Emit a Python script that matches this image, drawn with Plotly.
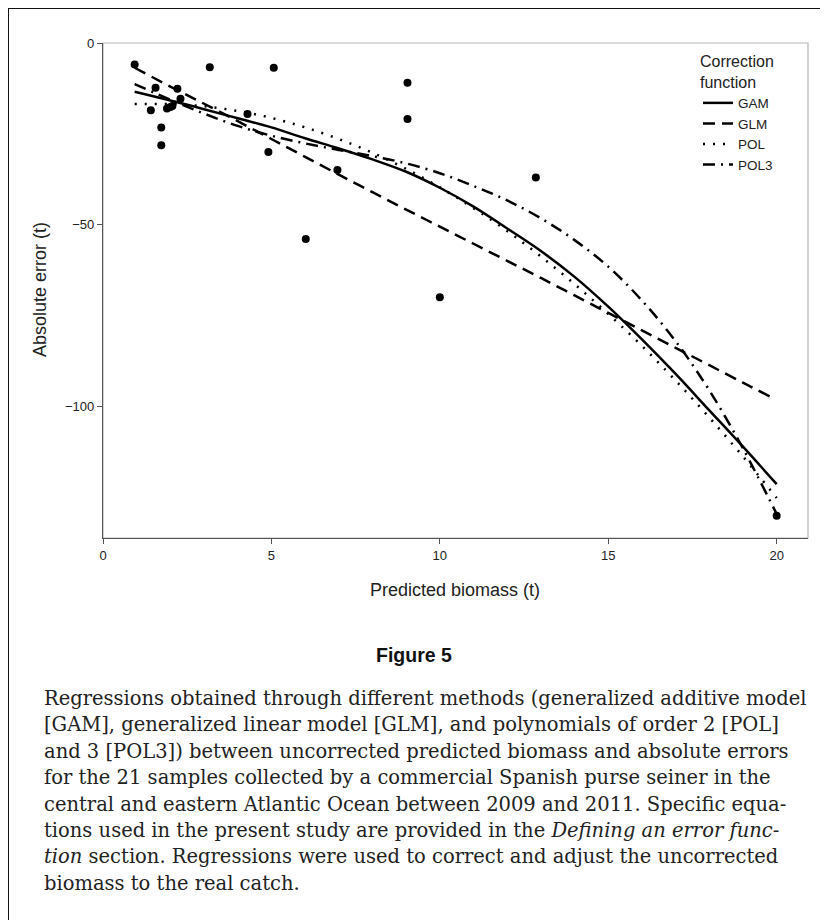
import plotly.graph_objects as go

# ---------------- data ----------------
pts_x = [0.94, 3.17, 5.07, 1.56, 2.21, 2.30, 1.42, 1.90, 2.00, 2.06, 1.73, 1.73,
         4.29, 4.91, 6.96, 9.04, 9.04, 12.85, 6.02, 10.0, 20.0]
pts_y = [-5.9, -6.7, -6.8, -12.3, -12.6, -15.3, -18.5, -18.0, -17.6, -17.3, -23.2, -28.1,
         -19.5, -30.0, -34.9, -10.9, -20.9, -37.0, -53.9, -69.9, -130.0]

curve_x = [0.94, 2, 3, 4, 5, 6, 7, 8, 9, 10, 11, 12, 13, 14, 15, 16, 17, 18, 19, 20]
gam_y = [-13.4, -15.8, -18.2, -20.7, -23.2, -26.2, -29.0, -32.0, -35.4, -39.8,
         -45.0, -51.0, -57.2, -64.3, -72.5, -81.5, -91.0, -101.0, -111.0, -121.3]
glm_x = [0.94, 2, 3, 4, 5, 6, 7, 8, 9, 10, 11, 12, 13, 14, 15, 16, 17, 18, 19, 19.8]
glm_y = [-6.8, -12.0, -16.7, -21.5, -26.4, -31.3, -36.2, -41.0, -45.8, -50.5,
         -55.2, -59.9, -64.6, -69.4, -74.2, -79.0, -83.8, -88.6, -93.4, -97.2]
pol_y = [-16.8, -16.8, -17.4, -18.7, -20.6, -23.2, -26.4, -30.2, -34.6, -39.7,
         -45.4, -51.7, -58.7, -66.3, -74.5, -83.3, -92.8, -103.0, -113.7, -125.1]
pol3_y = [-11.3, -15.6, -19.4, -22.8, -25.5, -27.6, -29.4, -31.1, -33.1, -35.8,
          -39.3, -43.3, -48.2, -54.2, -61.5, -70.8, -82.0, -95.5, -111.5, -129.5]

x_ticks = [0, 5, 10, 15, 20]
y_ticks = [0, -50, -100]

caption_lines = [
    "Regressions obtained through different methods (generalized additive model",
    "[GAM], generalized linear model [GLM], and polynomials of order 2 [POL]",
    "and 3 [POL3]) between uncorrected predicted biomass and absolute errors",
    "for the 21 samples collected by a commercial Spanish purse seiner in the",
    "central and eastern Atlantic Ocean between 2009 and 2011. Specific equa-",
    "tions used in the present study are provided in the <i>Defining an error func-</i>",
    "<i>tion</i> section. Regressions were used to correct and adjust the uncorrected",
    "biomass to the real catch.",
]

# ---------------- geometry (screen pixels, page has an 8px body margin) ----------------
OFF = 8
W, H = 828, 920
L, R_PX, T, B_PX = 103 - OFF, 808 - OFF, 43 - OFF, 538 - OFF
pw, ph = R_PX - L, B_PX - T


def px2x(px):
    return (px - OFF - L) / pw


def py2y(py):
    return (B_PX - (py - OFF)) / ph


SANS = "Liberation Sans, Arial, Helvetica, sans-serif"
SERIF = "DejaVu Serif, serif"

fig = go.Figure()

fig.add_trace(go.Scatter(x=pts_x, y=pts_y, mode="markers",
                         marker=dict(color="black", size=8), showlegend=False,
                         hoverinfo="skip"))

line_w = 2.5
fig.add_trace(go.Scatter(x=curve_x, y=gam_y, mode="lines", name="GAM",
                         line=dict(color="black", width=line_w, shape="spline")))
fig.add_trace(go.Scatter(x=glm_x, y=glm_y, mode="lines", name="GLM",
                         line=dict(color="black", width=line_w, dash="12px,7px", shape="spline")))
fig.add_trace(go.Scatter(x=curve_x, y=pol_y, mode="lines", name="POL",
                         line=dict(color="black", width=line_w, dash="2px,8px", shape="spline")))
fig.add_trace(go.Scatter(x=curve_x, y=pol3_y, mode="lines", name="POL3",
                         line=dict(color="black", width=line_w, dash="12px,6px,2px,6px", shape="spline")))

annotations = []
annotations.append(dict(text="Absolute error (t)", x=px2x(40), y=py2y(290), xref="paper", yref="paper",
                        showarrow=False, textangle=-90, font=dict(family=SANS, size=18, color="#222"),
                        xanchor="center", yanchor="middle"))
annotations.append(dict(text="Predicted biomass (t)", x=px2x(455), y=py2y(590), xref="paper", yref="paper",
                        showarrow=False, font=dict(family=SANS, size=18, color="#222"),
                        xanchor="center", yanchor="middle"))
annotations.append(dict(text="<b>Figure 5</b>", x=px2x(414), y=py2y(655), xref="paper", yref="paper",
                        showarrow=False, font=dict(family=SANS, size=19.5, color="#111"),
                        xanchor="center", yanchor="middle"))
pitch = 26.43
for i, ln in enumerate(caption_lines):
    annotations.append(dict(text=ln, x=px2x(42), y=py2y(698.3 + i * pitch), xref="paper", yref="paper",
                            showarrow=False, font=dict(family=SERIF, size=19.5, color="#222"),
                            xanchor="left", yanchor="middle", align="left"))

shapes = [
    # plot frame (light gray)
    dict(type="rect", xref="paper", yref="paper", x0=0, x1=1, y0=0, y1=1,
         line=dict(color="#b5b5b5", width=1.2), layer="below"),
    # outer figure frame
    dict(type="rect", xref="paper", yref="paper", x0=px2x(8), x1=px2x(845), y0=py2y(940), y1=py2y(8),
         line=dict(color="#111", width=2), layer="above"),
]

fig.update_layout(
    width=W, height=H,
    margin=dict(l=L, r=W - R_PX, t=T, b=H - B_PX, autoexpand=False),
    paper_bgcolor="white", plot_bgcolor="white",
    font=dict(family=SANS, color="#222"),
    xaxis=dict(range=[0, 20.93], tickvals=x_ticks, ticks="outside", ticklen=5, tickcolor="#555",
               showgrid=False, zeroline=False, showline=True, linecolor="#555", linewidth=1.2,
               tickfont=dict(family=SANS, size=13, color="#222")),
    yaxis=dict(range=[-136.1, 0], tickvals=y_ticks, ticks="outside", ticklen=5, tickcolor="#555",
               showgrid=False, zeroline=False, showline=True, linecolor="#555", linewidth=1.2,
               tickfont=dict(family=SANS, size=13, color="#222")),
    legend=dict(x=px2x(698), y=py2y(46), xanchor="left", yanchor="top",
                title=dict(text="Correction<br>function", font=dict(family=SANS, size=16, color="#222")),
                font=dict(family=SANS, size=13.5, color="#222"), itemwidth=30,
                bgcolor="rgba(0,0,0,0)", tracegroupgap=0),
    annotations=annotations,
    shapes=shapes,
)

fig.write_html("out.html")
